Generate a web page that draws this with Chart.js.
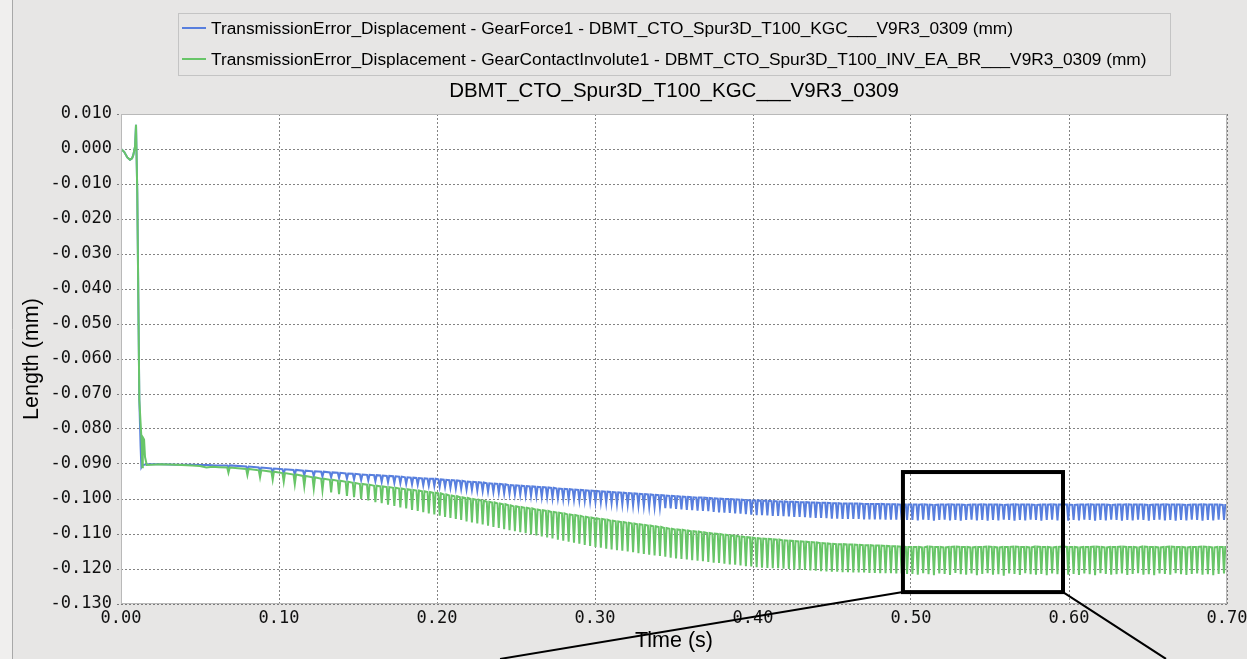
<!DOCTYPE html>
<html>
<head>
<meta charset="utf-8">
<script src="https://cdn.jsdelivr.net/npm/chart.js@4/dist/chart.umd.min.js"></script>
<style>
  html, body { margin: 0; padding: 0; background: #e7e6e5; }
  canvas { display: block; }
</style>
</head>
<body>
<canvas id="c" width="1247" height="659"></canvas>
<script>
// ---------------- DATA ----------------
const chartTitle = "DBMT_CTO_Spur3D_T100_KGC___V9R3_0309";
const seriesNames = [
  "TransmissionError_Displacement - GearForce1 - DBMT_CTO_Spur3D_T100_KGC___V9R3_0309 (mm)",
  "TransmissionError_Displacement - GearContactInvolute1 - DBMT_CTO_Spur3D_T100_INV_EA_BR___V9R3_0309 (mm)"
];
const xAxisTitle = "Time (s)";
const yAxisTitle = "Length (mm)";

// start-up transient (time s, length mm)
const blueStartT = [0, 0.002, 0.004, 0.0057, 0.0070, 0.0078, 0.0089, 0.0095, 0.0103, 0.0116, 0.0124, 0.0129, 0.0136, 0.0163, 0.025, 0.035, 0.045, 0.050, 0.055, 0.060, 0.064];
const blueStartV = [0, -0.0008, -0.0024, -0.0031, -0.0027, -0.0017, 0.0007, 0.0069, -0.0126, -0.0717, -0.0850, -0.0909, -0.0903, -0.0901, -0.0901, -0.0902, -0.0902, -0.0903, -0.0903, -0.0904, -0.0904];
const greenStartT = [0, 0.002, 0.004, 0.0057, 0.0070, 0.0078, 0.0089, 0.0095, 0.0103, 0.0116, 0.0131, 0.0135, 0.0138, 0.0141, 0.0146, 0.0152, 0.0163, 0.025, 0.035, 0.045, 0.050, 0.054, 0.058, 0.062];
const greenStartV = [0, -0.0008, -0.0024, -0.0031, -0.0027, -0.0017, 0.0007, 0.0069, -0.0126, -0.0717, -0.0840, -0.0909, -0.0880, -0.0826, -0.0830, -0.0880, -0.0903, -0.0901, -0.0902, -0.0904, -0.0906, -0.0910, -0.0908, -0.0909];

// gear-mesh dips: time of each dip (s)
const toothT = [
  0.068, 0.080, 0.088, 0.096, 0.103, 0.110, 0.116, 0.122, 0.1275, 0.133, 0.138, 0.143, 0.1475, 0.152, 0.1565, 0.161, 0.165, 0.169, 0.173, 0.1768, 0.1805, 0.1842, 0.1878, 0.1913, 0.1948, 0.1983,
  0.2017, 0.2051, 0.2085, 0.2119, 0.2153, 0.2187, 0.2221, 0.2255, 0.2289, 0.2323, 0.2357, 0.2391, 0.2425, 0.2459, 0.2493,
  0.2527, 0.2561, 0.2595, 0.2629, 0.2663, 0.2697, 0.2731, 0.2765, 0.2799, 0.2833, 0.2867, 0.2901, 0.2935, 0.2969,
  0.3003, 0.3037, 0.3071, 0.3105, 0.3139, 0.3173, 0.3207, 0.3241, 0.3275, 0.3309, 0.3343, 0.3377, 0.3411, 0.3445, 0.3479,
  0.3513, 0.3547, 0.3581, 0.3615, 0.3649, 0.3683, 0.3717, 0.3751, 0.3785, 0.3819, 0.3853, 0.3887, 0.3921, 0.3955, 0.3989,
  0.4023, 0.4057, 0.4091, 0.4125, 0.4159, 0.4193, 0.4227, 0.4261, 0.4295, 0.4329, 0.4363, 0.4397, 0.4431, 0.4465, 0.4499,
  0.4533, 0.4567, 0.4601, 0.4635, 0.4669, 0.4703, 0.4737, 0.4771, 0.4805, 0.4839, 0.4873, 0.4907, 0.4941, 0.4975,
  0.5009, 0.5043, 0.5077, 0.5111, 0.5145, 0.5179, 0.5213, 0.5247, 0.5281, 0.5315, 0.5349, 0.5383, 0.5417, 0.5451, 0.5485, 0.5519, 0.5553, 0.5587, 0.5621, 0.5655,
  0.5689, 0.5723, 0.5757, 0.5791, 0.5825, 0.5859, 0.5893, 0.5927, 0.5961, 0.5995, 0.6029, 0.6063, 0.6097, 0.6131, 0.6165, 0.6199, 0.6233, 0.6267, 0.6301, 0.6335,
  0.6369, 0.6403, 0.6437, 0.6471, 0.6505, 0.6539, 0.6573, 0.6607, 0.6641, 0.6675, 0.6709, 0.6743, 0.6777, 0.6811, 0.6845, 0.6879, 0.6913, 0.6947, 0.6981
];
const endT = 0.70;

// GearForce1 (blue): level between dips and level at the dip (mm)
const blueTop = [
  -0.0904, -0.0907, -0.0910, -0.0913, -0.0915, -0.0917, -0.0919, -0.0921, -0.0922, -0.0924, -0.0925, -0.0927, -0.0928, -0.0930, -0.0931, -0.0932, -0.0933, -0.0934, -0.0935, -0.0936, -0.0938, -0.0939, -0.0940, -0.0941, -0.0942, -0.0942,
  -0.0944, -0.0945, -0.0946, -0.0947, -0.0948, -0.0950, -0.0951, -0.0952, -0.0953, -0.0955, -0.0956, -0.0957, -0.0958, -0.0960, -0.0961,
  -0.0962, -0.0963, -0.0964, -0.0965, -0.0966, -0.0967, -0.0968, -0.0970, -0.0971, -0.0972, -0.0973, -0.0974, -0.0975, -0.0976,
  -0.0977, -0.0978, -0.0979, -0.0980, -0.0981, -0.0982, -0.0983, -0.0984, -0.0985, -0.0986, -0.0987, -0.0988, -0.0989, -0.0990, -0.0991,
  -0.0992, -0.0993, -0.0994, -0.0995, -0.0996, -0.0996, -0.0997, -0.0998, -0.0999, -0.1000, -0.1000, -0.1001, -0.1002, -0.1003, -0.1004,
  -0.1004, -0.1005, -0.1005, -0.1006, -0.1007, -0.1007, -0.1008, -0.1008, -0.1009, -0.1009, -0.1010, -0.1010, -0.1011, -0.1011, -0.1012,
  -0.1012, -0.1013, -0.1013, -0.1013, -0.1013, -0.1014, -0.1014, -0.1014, -0.1014, -0.1015, -0.1015, -0.1015, -0.1016, -0.1016,
  -0.1016, -0.1016, -0.1015, -0.1016, -0.1017, -0.1016, -0.1016, -0.1015, -0.1016, -0.1016, -0.1017, -0.1016, -0.1016, -0.1015, -0.1016, -0.1016, -0.1016, -0.1017, -0.1016, -0.1015,
  -0.1016, -0.1016, -0.1016, -0.1017, -0.1016, -0.1016, -0.1015, -0.1016, -0.1016, -0.1016, -0.1017, -0.1016, -0.1016, -0.1015, -0.1016, -0.1016, -0.1016, -0.1017, -0.1016, -0.1016,
  -0.1015, -0.1016, -0.1016, -0.1016, -0.1017, -0.1016, -0.1016, -0.1015, -0.1016, -0.1016, -0.1016, -0.1017, -0.1016, -0.1016, -0.1015, -0.1016, -0.1016, -0.1016, -0.1017
];
const blueBottom = [
  -0.0909, -0.0914, -0.0919, -0.0924, -0.0927, -0.0930, -0.0932, -0.0934, -0.0936, -0.0938, -0.0940, -0.0942, -0.0944, -0.0946, -0.0947, -0.0949, -0.0951, -0.0952, -0.0954, -0.0955, -0.0957, -0.0958, -0.0959, -0.0961, -0.0962, -0.0963,
  -0.0965, -0.0966, -0.0968, -0.0970, -0.0971, -0.0973, -0.0974, -0.0976, -0.0977, -0.0979, -0.0980, -0.0982, -0.0984, -0.0985, -0.0987,
  -0.0988, -0.0990, -0.0991, -0.0992, -0.0994, -0.0995, -0.0997, -0.0998, -0.1000, -0.1001, -0.1002, -0.1004, -0.1005, -0.1007,
  -0.1008, -0.1009, -0.1011, -0.1012, -0.1014, -0.1015, -0.1016, -0.1018, -0.1019, -0.1020, -0.1022, -0.1023, -0.1024, -0.1026, -0.1027,
  -0.1028, -0.1030, -0.1031, -0.1032, -0.1033, -0.1034, -0.1035, -0.1037, -0.1038, -0.1039, -0.1040, -0.1041, -0.1042, -0.1043, -0.1045,
  -0.1046, -0.1046, -0.1047, -0.1048, -0.1048, -0.1049, -0.1050, -0.1051, -0.1051, -0.1052, -0.1053, -0.1054, -0.1054, -0.1055, -0.1056,
  -0.1056, -0.1057, -0.1057, -0.1057, -0.1057, -0.1058, -0.1058, -0.1058, -0.1058, -0.1059, -0.1059, -0.1059, -0.1060, -0.1060,
  -0.1060, -0.1061, -0.1059, -0.1060, -0.1062, -0.1060, -0.1059, -0.1061, -0.1060, -0.1062, -0.1060, -0.1059, -0.1061, -0.1060, -0.1062, -0.1060, -0.1061, -0.1059, -0.1060, -0.1062,
  -0.1060, -0.1061, -0.1059, -0.1060, -0.1062, -0.1060, -0.1059, -0.1061, -0.1060, -0.1062, -0.1060, -0.1061, -0.1059, -0.1060, -0.1062, -0.1060, -0.1061, -0.1059, -0.1060, -0.1062,
  -0.1060, -0.1061, -0.1059, -0.1060, -0.1062, -0.1060, -0.1059, -0.1061, -0.1060, -0.1062, -0.1060, -0.1061, -0.1059, -0.1060, -0.1062, -0.1060, -0.1061, -0.1059, -0.1060
];
// GearContactInvolute1 (green)
const greenTop = [
  -0.0910, -0.0914, -0.0918, -0.0922, -0.0926, -0.0930, -0.0934, -0.0938, -0.0942, -0.0945, -0.0948, -0.0951, -0.0954, -0.0957, -0.0959, -0.0962, -0.0964, -0.0966, -0.0968, -0.0970, -0.0972, -0.0974, -0.0976, -0.0978, -0.0980, -0.0982,
  -0.0984, -0.0987, -0.0990, -0.0992, -0.0995, -0.0997, -0.1000, -0.1002, -0.1005, -0.1008, -0.1010, -0.1013, -0.1015, -0.1018, -0.1021,
  -0.1023, -0.1025, -0.1027, -0.1030, -0.1032, -0.1034, -0.1037, -0.1039, -0.1041, -0.1044, -0.1046, -0.1048, -0.1051, -0.1053,
  -0.1055, -0.1057, -0.1059, -0.1062, -0.1064, -0.1066, -0.1068, -0.1070, -0.1072, -0.1074, -0.1076, -0.1078, -0.1080, -0.1083, -0.1085,
  -0.1087, -0.1088, -0.1090, -0.1092, -0.1093, -0.1095, -0.1097, -0.1099, -0.1100, -0.1102, -0.1104, -0.1105, -0.1107, -0.1109, -0.1110,
  -0.1112, -0.1113, -0.1114, -0.1115, -0.1116, -0.1118, -0.1119, -0.1120, -0.1121, -0.1122, -0.1123, -0.1124, -0.1126, -0.1127, -0.1128,
  -0.1129, -0.1129, -0.1130, -0.1130, -0.1131, -0.1132, -0.1132, -0.1133, -0.1133, -0.1134, -0.1135, -0.1135, -0.1136, -0.1137,
  -0.1137, -0.1137, -0.1138, -0.1136, -0.1137, -0.1137, -0.1138, -0.1137, -0.1136, -0.1137, -0.1137, -0.1138, -0.1137, -0.1137, -0.1136, -0.1137, -0.1138, -0.1137, -0.1137, -0.1136,
  -0.1137, -0.1137, -0.1138, -0.1136, -0.1137, -0.1137, -0.1138, -0.1137, -0.1136, -0.1137, -0.1137, -0.1138, -0.1137, -0.1137, -0.1136, -0.1137, -0.1138, -0.1137, -0.1137, -0.1136,
  -0.1137, -0.1137, -0.1138, -0.1136, -0.1137, -0.1137, -0.1138, -0.1137, -0.1136, -0.1137, -0.1137, -0.1138, -0.1137, -0.1137, -0.1136, -0.1137, -0.1138, -0.1137, -0.1137
];
const greenBottom = [
  -0.0925, -0.0932, -0.0938, -0.0945, -0.0951, -0.0958, -0.0964, -0.0970, -0.0975, -0.0981, -0.0986, -0.0991, -0.0995, -0.1000, -0.1004, -0.1009, -0.1012, -0.1016, -0.1020, -0.1024, -0.1027, -0.1031, -0.1034, -0.1038, -0.1041, -0.1044,
  -0.1048, -0.1051, -0.1054, -0.1057, -0.1060, -0.1064, -0.1067, -0.1070, -0.1073, -0.1076, -0.1080, -0.1083, -0.1086, -0.1089, -0.1092,
  -0.1095, -0.1098, -0.1101, -0.1104, -0.1107, -0.1110, -0.1113, -0.1116, -0.1119, -0.1122, -0.1125, -0.1128, -0.1131, -0.1134,
  -0.1137, -0.1139, -0.1142, -0.1144, -0.1146, -0.1148, -0.1150, -0.1152, -0.1155, -0.1157, -0.1159, -0.1161, -0.1163, -0.1165, -0.1168,
  -0.1170, -0.1171, -0.1173, -0.1175, -0.1176, -0.1178, -0.1180, -0.1182, -0.1183, -0.1185, -0.1187, -0.1188, -0.1190, -0.1192, -0.1193,
  -0.1195, -0.1196, -0.1197, -0.1198, -0.1198, -0.1199, -0.1200, -0.1201, -0.1202, -0.1203, -0.1204, -0.1205, -0.1206, -0.1207, -0.1208,
  -0.1208, -0.1209, -0.1209, -0.1210, -0.1210, -0.1210, -0.1211, -0.1211, -0.1212, -0.1212, -0.1212, -0.1213, -0.1213, -0.1214,
  -0.1214, -0.1216, -0.1212, -0.1215, -0.1218, -0.1213, -0.1214, -0.1217, -0.1211, -0.1215, -0.1216, -0.1213, -0.1218, -0.1214, -0.1212, -0.1216, -0.1215, -0.1219, -0.1213, -0.1214,
  -0.1217, -0.1212, -0.1215, -0.1216, -0.1214, -0.1218, -0.1213, -0.1215, -0.1211, -0.1216, -0.1214, -0.1217, -0.1213, -0.1215, -0.1218, -0.1212, -0.1214, -0.1216, -0.1215, -0.1213,
  -0.1217, -0.1214, -0.1212, -0.1216, -0.1215, -0.1218, -0.1213, -0.1214, -0.1216, -0.1212, -0.1215, -0.1217, -0.1214, -0.1213, -0.1216, -0.1215, -0.1218, -0.1214, -0.1213
];

// axis ranges and tick steps
const xRange = [0, 0.70], xStep = 0.10;
const yRange = [-0.130, 0.010], yStep = 0.010;

// zoom-box annotation (data coordinates)
const zoomBox = { t0: 0.4949, t1: 0.5962, yTop: -0.0923, yBottom: -0.1266 };
const calloutEnds = [ { t: 0.2399, y: -0.1457 }, { t: 0.6614, y: -0.1457 } ];

// ---------------- STYLE ----------------
const BLUE = 'rgb(88,127,222)';
const GREEN = 'rgb(104,197,104)';
const DIP_HALF = 0.0008; // half width of a dip (s)
const UI_FONT = '"Liberation Sans", Arial, sans-serif';
const TICK_FONT = '"DejaVu Sans Mono", monospace';

function buildSeries(startT, startV, top, bottom) {
  const pts = startT.map((t, i) => ({ x: t, y: startV[i] }));
  for (let i = 0; i < toothT.length; i++) {
    pts.push({ x: toothT[i] - DIP_HALF, y: top[i] });
    pts.push({ x: toothT[i], y: bottom[i] });
    pts.push({ x: toothT[i] + DIP_HALF, y: top[i] });
  }
  pts.push({ x: endT, y: top[top.length - 1] });
  return pts;
}

const decorPlugin = {
  id: 'decor',
  beforeDraw(chart) {
    const { ctx, chartArea: a, width, height } = chart;
    ctx.save();
    ctx.fillStyle = '#e7e6e5';
    ctx.fillRect(0, 0, width, height);
    ctx.fillStyle = '#f0efee';
    ctx.fillRect(0, 0, 12, height);
    ctx.strokeStyle = '#a8a8a8';
    ctx.lineWidth = 1;
    ctx.beginPath(); ctx.moveTo(12.5, 0); ctx.lineTo(12.5, height); ctx.stroke();
    ctx.fillStyle = '#ffffff';
    ctx.fillRect(a.left, a.top, a.right - a.left, a.bottom - a.top);
    ctx.restore();
  },
  afterDraw(chart) {
    const { ctx, chartArea: a, scales } = chart;
    const xs = scales.x, ys = scales.y;
    ctx.save();
    // plot frame
    ctx.strokeStyle = '#b9b9b9';
    ctx.lineWidth = 1;
    ctx.strokeRect(a.left + 0.5, a.top + 0.5, a.right - a.left - 1, a.bottom - a.top - 1);

    // legend box
    ctx.strokeStyle = '#c4c4c4';
    ctx.strokeRect(178.5, 13.5, 992, 62);
    const rows = [28, 59];
    const cols = [BLUE, GREEN];
    ctx.font = '17.3px ' + UI_FONT;
    ctx.textBaseline = 'middle';
    ctx.textAlign = 'left';
    for (let i = 0; i < 2; i++) {
      ctx.strokeStyle = cols[i];
      ctx.lineWidth = 2;
      ctx.beginPath(); ctx.moveTo(182, rows[i]); ctx.lineTo(206, rows[i]); ctx.stroke();
      ctx.fillStyle = '#000';
      ctx.fillText(seriesNames[i], 211, rows[i] + 1);
    }
    // title
    ctx.font = '20.5px ' + UI_FONT;
    ctx.textAlign = 'center';
    ctx.fillStyle = '#000';
    ctx.fillText(chartTitle, (a.left + a.right) / 2, 91);

    // zoom box annotation
    const bx0 = xs.getPixelForValue(zoomBox.t0), bx1 = xs.getPixelForValue(zoomBox.t1);
    const by0 = ys.getPixelForValue(zoomBox.yTop), by1 = ys.getPixelForValue(zoomBox.yBottom);
    ctx.strokeStyle = '#000';
    ctx.lineWidth = 2;
    ctx.beginPath();
    ctx.moveTo(bx0, by1);
    ctx.lineTo(xs.getPixelForValue(calloutEnds[0].t), ys.getPixelForValue(calloutEnds[0].y));
    ctx.moveTo(bx1, by1);
    ctx.lineTo(xs.getPixelForValue(calloutEnds[1].t), ys.getPixelForValue(calloutEnds[1].y));
    ctx.stroke();
    ctx.lineWidth = 4;
    ctx.lineJoin = 'miter';
    ctx.strokeRect(bx0, by0, bx1 - bx0, by1 - by0);
    ctx.restore();
  }
};

const gridCommon = { color: 'rgba(90,90,90,0.75)', lineWidth: 1 };

new Chart(document.getElementById('c'), {
  type: 'line',
  data: {
    datasets: [
      { label: seriesNames[0], data: buildSeries(blueStartT, blueStartV, blueTop, blueBottom),
        borderColor: BLUE, borderWidth: 2, pointRadius: 0, tension: 0, order: 1 },
      { label: seriesNames[1], data: buildSeries(greenStartT, greenStartV, greenTop, greenBottom),
        borderColor: GREEN, borderWidth: 2, pointRadius: 0, tension: 0, order: 0 }
    ]
  },
  options: {
    responsive: false,
    devicePixelRatio: 1,
    animation: false,
    events: [],
    layout: { padding: { top: 114, right: 20, bottom: 0, left: 0 } },
    plugins: { legend: { display: false }, title: { display: false }, tooltip: { enabled: false } },
    scales: {
      x: {
        type: 'linear', min: xRange[0], max: xRange[1],
        ticks: { stepSize: xStep, autoSkip: false, maxRotation: 0, padding: 4, color: '#111',
                 font: { family: TICK_FONT, size: 17 }, callback: v => Math.abs(v) < 1e-9 ? '0.00' : Number(v).toFixed(2) },
        grid: { ...gridCommon, drawTicks: false },
        border: { display: false, dash: [2, 2] },
        title: { display: true, text: xAxisTitle, color: '#000', font: { family: UI_FONT, size: 21.5 }, padding: { top: 0, bottom: 5 } },
        afterFit(s) { s.height = 55; s.paddingLeft = 0; s.paddingRight = 0; }
      },
      y: {
        type: 'linear', min: yRange[0], max: yRange[1],
        ticks: { stepSize: yStep, autoSkip: false, padding: 5, color: '#111',
                 font: { family: TICK_FONT, size: 17 }, callback: v => Math.abs(v) < 1e-9 ? '0.000' : Number(v).toFixed(3) },
        grid: { ...gridCommon, drawTicks: true, tickLength: 4, tickBorderDash: [2, 2] },
        border: { display: false, dash: [2, 2] },
        title: { display: true, text: yAxisTitle, color: '#000', font: { family: UI_FONT, size: 21.5 }, padding: { top: 19, bottom: 0 } },
        afterFit(s) { s.width = 121; s.paddingTop = 0; s.paddingBottom = 0; }
      }
    }
  },
  plugins: [decorPlugin]
});
</script>
</body>
</html>
